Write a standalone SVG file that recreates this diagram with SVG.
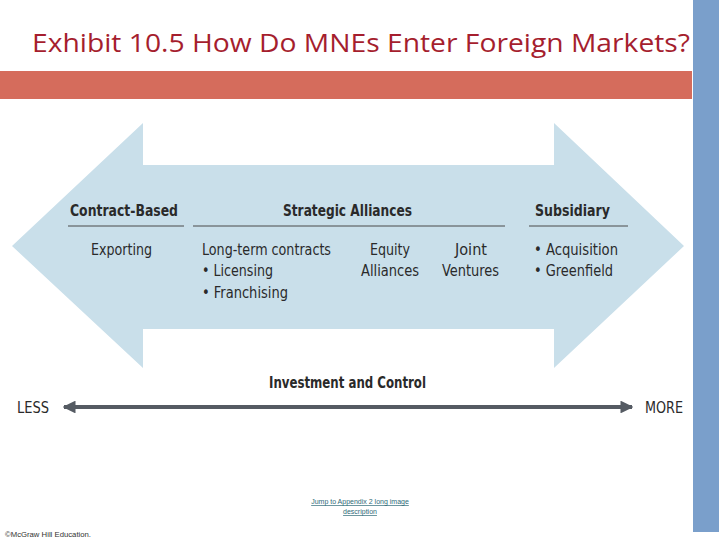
<svg xmlns="http://www.w3.org/2000/svg" width="720" height="540" viewBox="0 0 720 540">
  <style>
    .title { font-family: "Open Sans", "Liberation Sans", sans-serif; font-size: 26px; fill: #A51E2E; }
    .hd { font-family: "DejaVu Sans Condensed", "Liberation Sans Narrow", "Liberation Sans", sans-serif; font-stretch: condensed; font-weight: bold; font-size: 15px; fill: #2A2A2A; }
    .lb { font-family: "DejaVu Sans Condensed", "Liberation Sans Narrow", "Liberation Sans", sans-serif; font-stretch: condensed; font-size: 16px; fill: #2A2A2A; }
    .rule { stroke: #4A4A4A; stroke-width: 1; fill: none; }
    .link { font-family: "Liberation Sans", sans-serif; font-size: 7px; fill: #2E6A78; text-decoration: underline; }
    .copy { font-family: "Liberation Sans", sans-serif; font-size: 6.5px; fill: #333333; }
  </style>
  <defs>
    <marker id="ah" viewBox="0 0 10 10" refX="9" refY="5" markerWidth="3.2" markerHeight="3.2" orient="auto-start-reverse" markerUnits="strokeWidth">
      <path d="M0,0 L10,5 L0,10 Z" fill="#555B63"/>
    </marker>
  </defs>
  <rect width="720" height="540" fill="#FFFFFF"/>
  <rect x="693" y="0" width="26" height="532" fill="#7A9FCB"/>
  <rect x="0" y="71" width="692" height="28" fill="#D56C5C"/>
  <text class="title" x="32" y="52" textLength="658" lengthAdjust="spacingAndGlyphs">Exhibit 10.5 How Do MNEs Enter Foreign Markets?</text>

  <g id="double-arrow">
    <path d="M12,246 L143,123 L143,165 L554,165 L554,123 L684,246 L554,368 L554,329 L143,329 L143,368 Z" fill="#C9DFEA"/>
  </g>

  <g id="contract-based">
    <text class="hd" x="70" y="216" textLength="108" lengthAdjust="spacingAndGlyphs">Contract-Based</text>
    <line class="rule" x1="68" y1="226" x2="184" y2="226"/>
    <text class="lb" x="91" y="255" textLength="61" lengthAdjust="spacingAndGlyphs">Exporting</text>
  </g>

  <g id="strategic-alliances">
    <text class="hd" x="283" y="216" textLength="129" lengthAdjust="spacingAndGlyphs">Strategic Alliances</text>
    <line class="rule" x1="193" y1="226" x2="505" y2="226"/>
    <text class="lb" x="202" y="255" textLength="129" lengthAdjust="spacingAndGlyphs">Long-term contracts</text>
    <text class="lb" x="202" y="276" textLength="71" lengthAdjust="spacingAndGlyphs">• Licensing</text>
    <text class="lb" x="202" y="298" textLength="86" lengthAdjust="spacingAndGlyphs">• Franchising</text>
    <text class="lb" x="370" y="255" textLength="40" lengthAdjust="spacingAndGlyphs">Equity</text>
    <text class="lb" x="361" y="276" textLength="58" lengthAdjust="spacingAndGlyphs">Alliances</text>
    <text class="lb" x="455" y="255" textLength="32" lengthAdjust="spacingAndGlyphs">Joint</text>
    <text class="lb" x="442" y="276" textLength="57" lengthAdjust="spacingAndGlyphs">Ventures</text>
  </g>

  <g id="subsidiary">
    <text class="hd" x="535" y="216" textLength="75" lengthAdjust="spacingAndGlyphs">Subsidiary</text>
    <line class="rule" x1="529" y1="226" x2="628" y2="226"/>
    <text class="lb" x="534" y="255" textLength="84" lengthAdjust="spacingAndGlyphs">• Acquisition</text>
    <text class="lb" x="534" y="276" textLength="79" lengthAdjust="spacingAndGlyphs">• Greenfield</text>
  </g>

  <g id="scale-labels">
    <text class="hd" x="269" y="388" textLength="157" lengthAdjust="spacingAndGlyphs">Investment and Control</text>
    <text class="lb" x="17" y="413" textLength="32" lengthAdjust="spacingAndGlyphs">LESS</text>
    <text class="lb" x="645" y="413" textLength="38" lengthAdjust="spacingAndGlyphs">MORE</text>
  </g>

  <g id="connectors">
    <line x1="64" y1="407" x2="632" y2="407" stroke="#555B63" stroke-width="4" marker-start="url(#ah)" marker-end="url(#ah)"/>
  </g>

  <g id="footer">
    <text class="link" x="360" y="504" text-anchor="middle">Jump to Appendix 2 long image</text>
    <text class="link" x="360" y="514" text-anchor="middle">description</text>
    <text class="copy" x="5" y="537" textLength="86" lengthAdjust="spacingAndGlyphs">©McGraw Hill Education.</text>
  </g>
</svg>
